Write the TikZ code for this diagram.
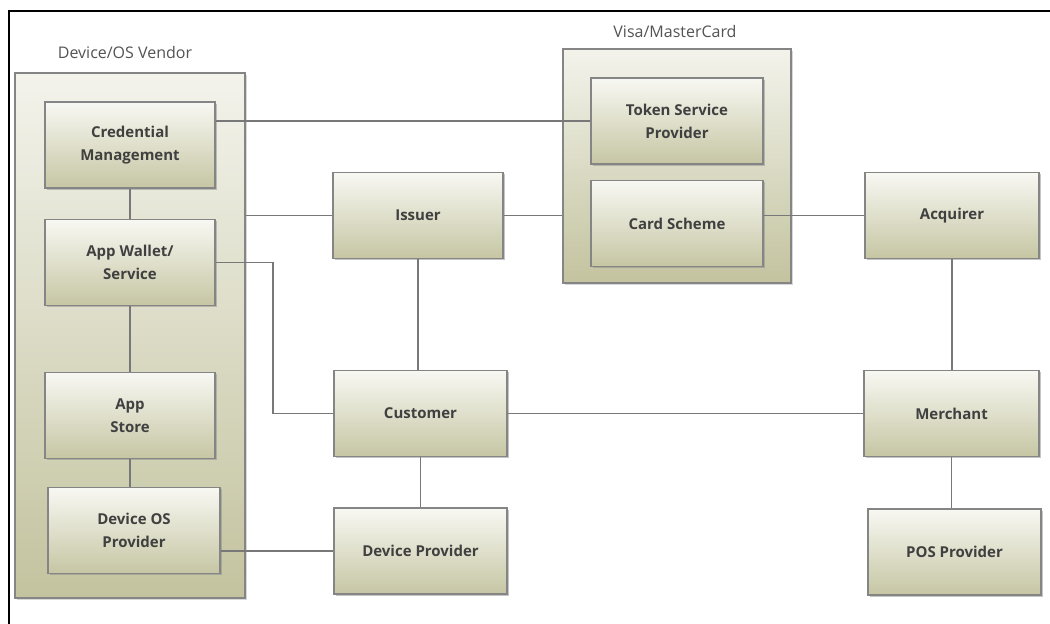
\documentclass[tikz,border=0pt]{standalone}
\usepackage{fontspec}
\setmainfont{Open Sans}
\usepackage{xcolor}
\usepackage{tikz}
\usetikzlibrary{
arrows.meta,
positioning,
shadows,
calc
}

\definecolor{boxtop}{HTML}{F8F8F3}
\definecolor{boxbot}{HTML}{C6C6A4}
\definecolor{grptop}{HTML}{F3F3EC}
\definecolor{grpbot}{HTML}{C3C39F}
\definecolor{edgegray}{HTML}{858585}
\definecolor{txtgray}{HTML}{404040}

\begin{document}
\begin{tikzpicture}[
x=1pt,y=-1pt,
box/.style={
draw=edgegray,
line width=1.3pt,
top color=boxtop,
bottom color=boxbot,
drop shadow={shadow xshift=1.5pt,shadow yshift=-1.5pt,fill=black!45},
align=center,
text=txtgray,
font=\fontsize{15}{23}\selectfont\bfseries,
minimum width=170pt,
minimum height=86pt
},
group/.style={
draw=edgegray,
line width=1.3pt,
top color=grptop,
bottom color=grpbot,
drop shadow={shadow xshift=1.5pt,shadow yshift=-1.5pt,fill=black!30},
inner sep=0pt
},
grouplabel/.style={
text=txtgray!90,
font=\fontsize{16}{18}\selectfont
},
link/.style={draw=edgegray!90!black,line width=1.7pt}
]

\useasboundingbox (0,0) rectangle (1050,624);
\draw[line width=2pt] (9,624) -- (9,11) -- (1050,11);

% containers
\node[group,minimum width=230pt,minimum height=525pt] (vendor) at (130,335.5) {};
\node[grouplabel] (vendorlbl) at (125,52) {Device/OS Vendor};
\node[group,minimum width=228pt,minimum height=234pt] (visa) at (677,166) {};
\node[grouplabel] (visalbl) at (675,31) {Visa/MasterCard};

% boxes
\node[box] (cred) at (130,145) {Credential\\Management};
\node[box] (wallet) at (130,262.5) {App Wallet/\\Service};
\node[box] (appstore) at (130,415.5) {App\\Store};
\node[box,minimum width=172pt] (osprov) at (134,530.5) {Device OS\\Provider};

\node[box] (issuer) at (418,215.5) {Issuer};
\node[box,minimum width=173pt] (customer) at (420.5,413.5) {Customer};
\node[box,minimum width=173pt] (devprov) at (420.5,551) {Device Provider};

\node[box,minimum width=172pt] (tsp) at (677,121) {Token Service\\Provider};
\node[box,minimum width=172pt] (scheme) at (677,223.5) {Card Scheme};

\node[box,minimum width=174pt] (acquirer) at (952,215.5) {Acquirer};
\node[box,minimum width=175pt] (merchant) at (951.5,413.5) {Merchant};
\node[box,minimum width=173pt] (pos) at (954.5,552) {POS Provider};

% connectors
\draw[link] (cred.south) -- (wallet.north);
\draw[link] (wallet.south) -- (appstore.north);
\draw[link] (appstore.south) -- (appstore.south |- osprov.north);
\draw[link] (cred.east |- tsp.west) -- (tsp.west);
\draw[link] (vendor.east |- issuer.west) -- (issuer.west);
\draw[link] (issuer.east) -- (visa.west |- issuer.east);
\draw[link] (scheme.east |- acquirer.west) -- (acquirer.west);
\draw[link] (wallet.east) -- ++(57,0) |- (customer.west);
\draw[link] (customer.east) -- (merchant.west);
\draw[link] (issuer.south) -- (issuer.south |- customer.north);
\draw[link] (customer.south) -- (customer.south |- devprov.north);
\draw[link] (acquirer.south) -- (acquirer.south |- merchant.north);
\draw[link] (merchant.south) -- (merchant.south |- pos.north);
\draw[link] (osprov.east |- devprov.west) -- (devprov.west);

\end{tikzpicture}
\end{document}
